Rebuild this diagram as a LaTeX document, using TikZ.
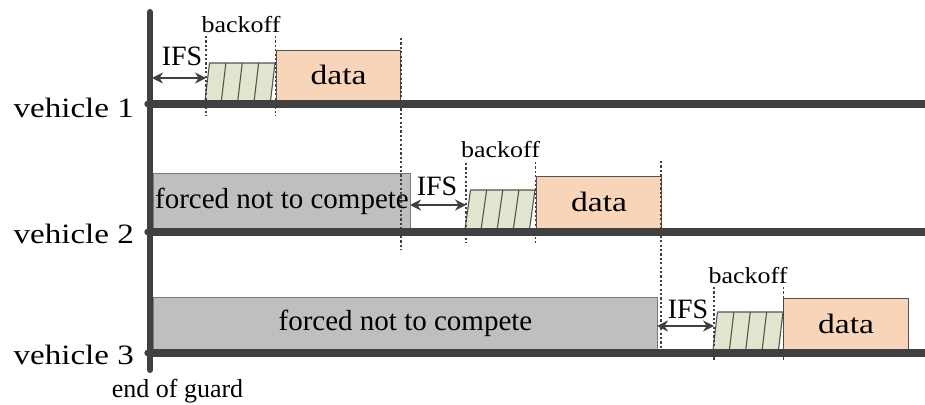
\documentclass[tikz,border=0pt]{standalone}
\usepackage{fontspec}
\usepackage{graphicx}
\setmainfont{Liberation Serif}
\usetikzlibrary{arrows.meta}
\definecolor{axisc}{HTML}{404040}
\definecolor{grayfill}{HTML}{BFBFBF}
\definecolor{grayline}{HTML}{7A7A7A}
\definecolor{greenfill}{HTML}{DFE6CD}
\definecolor{peach}{HTML}{F8D5B8}
\begin{document}
\begin{tikzpicture}[x=1pt,y=-1pt,
  timeline/.style={line width=8pt, draw=axisc},
  vaxis/.style={line width=6pt, draw=axisc, line cap=round},
  enddot/.style={fill=axisc},
  guide/.style={draw=axisc, line width=1.2pt, dash pattern=on 2.2pt off 2.2pt},
  databox/.style={draw=axisc!90, line width=1.2pt, fill=peach, inner sep=0pt,
    minimum width=124pt, minimum height=50pt, anchor=south west,
    font=\fontsize{28}{30}\selectfont},
  forcedbox/.style={draw=grayline, line width=1pt, fill=grayfill, inner sep=0pt,
    anchor=south west, font=\fontsize{29}{31}\selectfont},
  backoffshape/.style={draw=axisc!90, line width=1.1pt, fill=greenfill, line join=round},
  ifsarrow/.style={draw=axisc, line width=2.2pt, {Stealth[length=11pt,width=11pt]}-{Stealth[length=11pt,width=11pt]}},
  ifslbl/.style={anchor=base, inner sep=0pt, font=\fontsize{28}{30}\selectfont},
  bolbl/.style={anchor=base, inner sep=0pt, font=\fontsize{23}{25}\selectfont},
  vehlbl/.style={anchor=base east, inner sep=0pt, font=\fontsize{28}{30}\selectfont},
  guardlbl/.style={anchor=base, inner sep=0pt, font=\fontsize{26}{28}\selectfont}]
\useasboundingbox[fill=white] (0,0) rectangle (925,404);

% forced boxes (behind lines)
\node[forcedbox, minimum width=257pt, minimum height=55pt] (f2) at (153,229) {\raisebox{-4pt}{forced not to compete}};
\node[forcedbox, minimum width=504pt, minimum height=52pt] (f3) at (153,350) {\raisebox{-4pt}{forced not to compete}};

% data boxes
\node[databox] (d1) at (276,101) {\raisebox{-4pt}{\scalebox{1.2}[1]{data}}};
\node[databox, minimum width=125pt, minimum height=52pt] (d2) at (536,229) {\raisebox{-4pt}{\scalebox{1.2}[1]{data}}};
\node[databox, minimum width=125pt, minimum height=51pt] (d3) at (783,350) {\raisebox{-4pt}{\scalebox{1.2}[1]{data}}};

% backoff blocks
\foreach \xl/\xr/\yt/\yb/\s in {205/275/63/101/4.5, 465/535/190/229/5.5, 713/783/312/350/4.5}{
  \draw[backoffshape] (\xl,\yb) -- (\xl+\s,\yt) -- (\xr,\yt) -- (\xr-\s,\yb) -- cycle;
  \foreach \k in {1,2,3}{
    \draw[axisc!90, line width=1.1pt] ({\xl+\s+\k*(\xr-\xl-\s)/4},\yt) -- ({\xl+\k*(\xr-\xl-\s)/4},\yb);
  }
}

% time lines
\coordinate (o1) at (150,104);
\coordinate (o2) at (150,232);
\coordinate (o3) at (150,353);
\coordinate (e1) at (925,104);
\coordinate (e2) at (925,232);
\coordinate (e3) at (925,353);
\draw[timeline] (o1) -- (e1);
\draw[timeline] (o2) -- (e2);
\draw[timeline] (o3) -- (e3);
\coordinate (atop) at (150,12);
\coordinate (abot) at (150,370);
\draw[vaxis] (atop) -- (abot);
\fill[enddot] (147.5,104) circle (3.2pt);
\fill[enddot] (147.5,232) circle (3.2pt);
\fill[enddot] (147.5,353) circle (3.2pt);

% guide lines
\draw[guide] (206,36) -- (206,116);
\draw[guide] (275.5,36) -- (275.5,116);
\draw[guide] (401,38) -- (401,250);
\draw[guide] (466,163) -- (466,243);
\draw[guide] (535.5,162) -- (535.5,243);
\draw[guide] (661,161) -- (661,352);
\draw[guide] (714,287) -- (714,361);
\draw[guide] (783.5,287) -- (783.5,361);

% IFS arrows
\coordinate (i1a) at (152,78);
\coordinate (i1b) at (206,78);
\coordinate (i2a) at (410,205);
\coordinate (i2b) at (466,205);
\coordinate (i3a) at (657,326);
\coordinate (i3b) at (714,326);
\draw[ifsarrow] (i1a) -- (i1b);
\draw[ifsarrow] (i2a) -- (i2b);
\draw[ifsarrow] (i3a) -- (i3b);

% labels
\node[ifslbl] (ifs1) at (182,65) {IFS};
\node[ifslbl] (ifs2) at (437,195) {IFS};
\node[ifslbl] (ifs3) at (688,318) {IFS};
\node[bolbl] (bo1) at (241,32.5) {\scalebox{1.13}[1]{backoff}};
\node[bolbl] (bo2) at (500.5,157) {\scalebox{1.13}[1]{backoff}};
\node[bolbl] (bo3) at (748,283) {\scalebox{1.13}[1]{backoff}};
\node[vehlbl] (v1) at (134,117) {\scalebox{1.18}[1]{vehicle 1}};
\node[vehlbl] (v2) at (134,243) {\scalebox{1.18}[1]{vehicle 2}};
\node[vehlbl] (v3) at (134,364) {\scalebox{1.18}[1]{vehicle 3}};
\node[guardlbl] (g) at (177.5,397) {end of guard};
\end{tikzpicture}
\end{document}
